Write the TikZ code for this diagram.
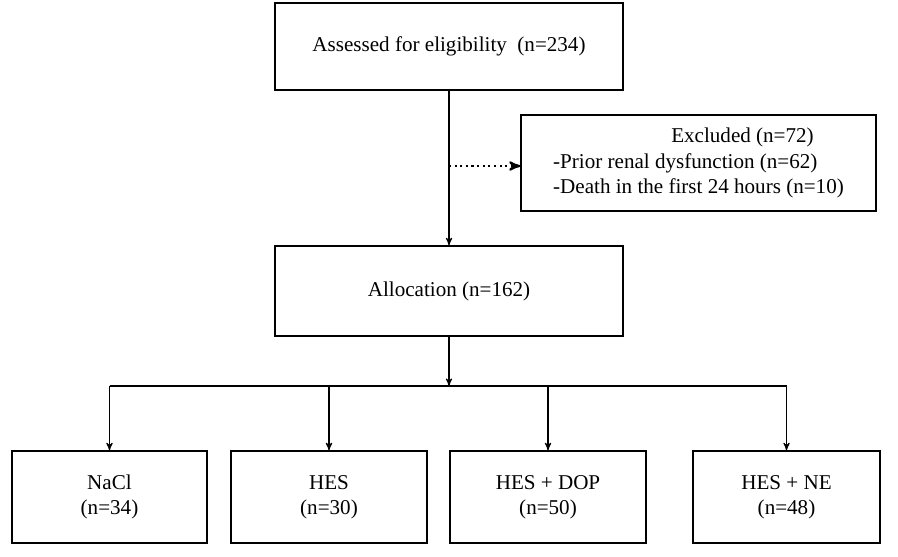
\documentclass[tikz,border=0pt]{standalone}
\usepackage{fontspec}
\setmainfont{Liberation Serif}
\usetikzlibrary{arrows,positioning}
\begin{document}
\begin{tikzpicture}[->,>=stealth',semithick,x=0.02cm,y=-0.02cm]
\tikzstyle{every node}=[font=\fontsize{12pt}{14.5}\selectfont]
\tikzstyle{box}=[draw=black,thick,align=center,inner sep=2pt]
\useasboundingbox (0,0) rectangle (898,556);

        \node[box,minimum width=6.96cm,minimum height=1.74cm]   (assess) at (449,46.5)  {Assessed for eligibility~ (n=234)};
        \node[box,minimum width=7.1cm,minimum height=1.92cm,align=left] (excl) at (698.5,163)
            {\hspace*{5.6em}Excluded (n=72)\\-Prior renal dysfunction (n=62)\\-Death in the first 24 hours (n=10)};
        \node[box,minimum width=6.96cm,minimum height=1.8cm]    (alloc)  at (449,291)   {Allocation (n=162)};

        \node[box,minimum width=3.9cm,minimum height=1.84cm]    (nacl)   at (109.5,497) {NaCl\\(n=34)};
        \node[box,minimum width=3.92cm,minimum height=1.84cm]   (hes)    at (329,497)   {HES\\(n=30)};
        \node[box,minimum width=3.92cm,minimum height=1.84cm]   (dop)    at (548,497)   {HES + DOP\\(n=50)};
        \node[box,minimum width=3.74cm,minimum height=1.84cm]   (ne)     at (786.5,497) {HES + NE\\(n=48)};

        \coordinate (split) at (449,166);
        \coordinate (bar)   at (449,386);
        \coordinate (barL)  at (109.5,386);
        \coordinate (barR)  at (786.5,386);

        \draw (assess) -- (alloc);
        \draw[dotted,very thick] (split) -- (excl.west |- split);
        \draw (alloc) -- (bar);
        \draw[-] (barL) -- (barR);
        \draw (barL) -- (nacl);
        \draw (hes.north |- bar) -- (hes);
        \draw (dop.north |- bar) -- (dop);
        \draw (barR) -- (ne);
\end{tikzpicture}
\end{document}
